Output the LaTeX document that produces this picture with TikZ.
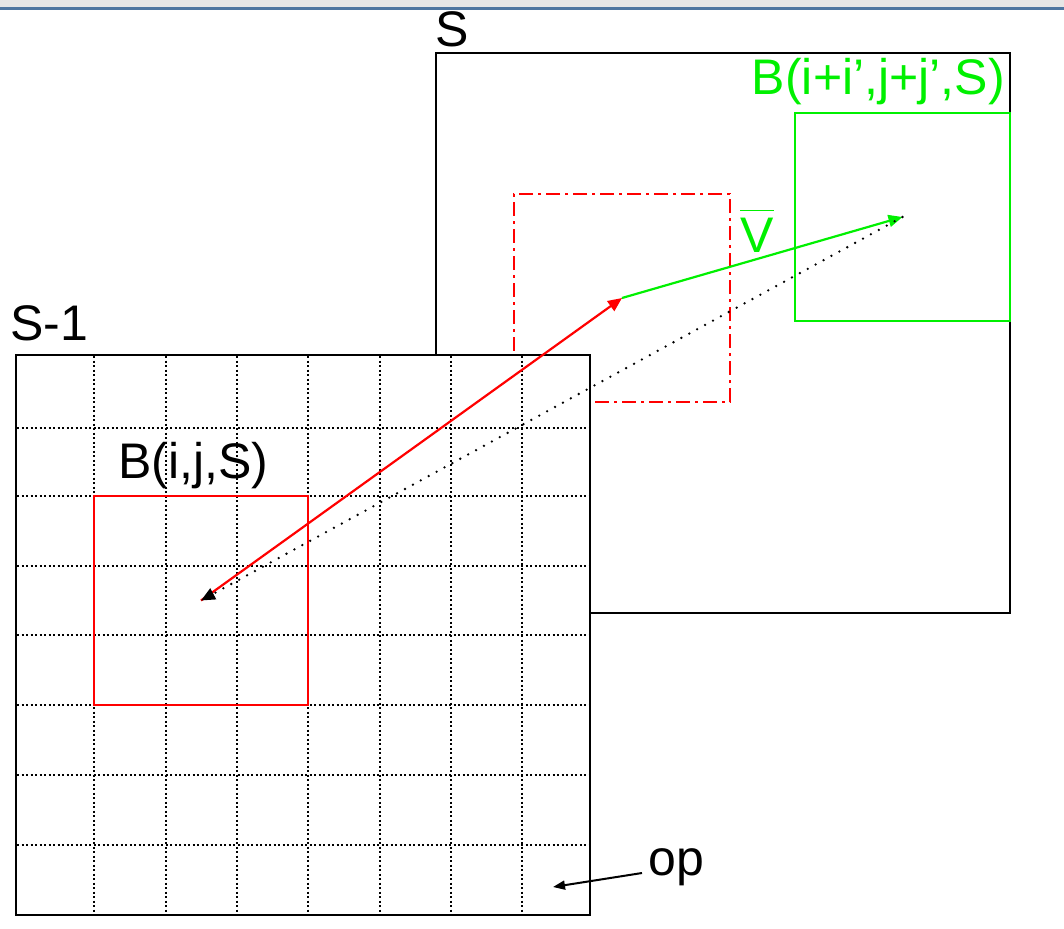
\documentclass[tikz,border=0pt]{standalone}
\usepackage{fontspec}
\setmainfont{Liberation Sans}
\usetikzlibrary{arrows.meta}
\definecolor{topgrey}{RGB}{230,230,230}
\definecolor{topblue}{RGB}{78,118,160}
\definecolor{brightgreen}{RGB}{0,240,0}
\newcommand{\bigtext}{\fontsize{50}{60}\selectfont}
\tikzset{
  frame/.style={draw=black, line width=1.3pt, fill=white, inner sep=0pt},
  redbox/.style={draw=red, line width=2.2pt, inner sep=0pt},
  movedbox/.style={draw=red, line width=2.6pt, inner sep=0pt,
    dash pattern=on 14pt off 5pt on 3pt off 5pt},
  greenbox/.style={draw=brightgreen, line width=2.4pt, inner sep=0pt},
  gridline/.style={line width=2pt, dash pattern=on 2pt off 2.5pt},
  lbl/.style={inner sep=0pt, font=\bigtext},
  tip/.style={-{Triangle[length=14pt,width=12pt]}}
}

\begin{document}
\begin{tikzpicture}[x=1pt,y=-1pt]
\useasboundingbox (0,0) rectangle (1064,928);
\fill[white] (0,0) rectangle (1064,928);
\fill[topgrey] (0,0) rectangle (1064,7);
\fill[topblue] (0,7) rectangle (1064,10);

% frame S
\node[frame, minimum width=574pt, minimum height=560pt] (S) at (723,333) {};
\node[greenbox, minimum width=215pt, minimum height=208pt] (Bmoved) at (902.5,217) {};
\node[movedbox, minimum width=216pt, minimum height=208pt] (Bguess) at (622,298) {};

% frame S-1
\node[frame, minimum width=574pt, minimum height=560pt] (Sprev) at (303,635) {};
\foreach \gx in {94,166,237,308,380,451,522}
  \draw[gridline] (\gx,356) -- (\gx,914);
\foreach \gy in {428,496,566,635,705,775,845}
  \draw[gridline] (17,\gy) -- (589,\gy);
\node[redbox, minimum width=214pt, minimum height=209pt] (Bij) at (201,600.5) {};

% vectors
\draw[red, line width=2.2pt, tip] (Bij.center) -- (Bguess.center);
\draw[brightgreen, line width=2.2pt, tip] (Bguess.center) -- (Bmoved.center);
\draw[line width=2.6pt, dash pattern=on 0pt off 9pt, line cap=round, tip] (Bmoved.center) -- (Bij.center);

% labels
\node[lbl, anchor=base west] (Slbl) at (435,47) {S};
\node[lbl, anchor=base west] (Sprevlbl) at (10,340) {S-1};
\node[lbl, anchor=base west] (Bijlbl) at (118,478) {B(i,j,S)};
\node[lbl, anchor=base east, text=brightgreen] (Bmovedlbl) at (1005,95) {B(i+i’,j+j’,S)};
\node[lbl, anchor=base west, text=brightgreen] (Vlbl) at (740,252) {$\overline{\mbox{V\rule{0pt}{40pt}}}$};
\node[lbl, anchor=base west] (oplbl) at (648,875) {op};
\coordinate (opstart) at (642,873);
\coordinate (optip) at (553,887);
\draw[line width=2pt, -{Triangle[length=12pt,width=9pt]}] (opstart) -- (optip);
\end{tikzpicture}
\end{document}
